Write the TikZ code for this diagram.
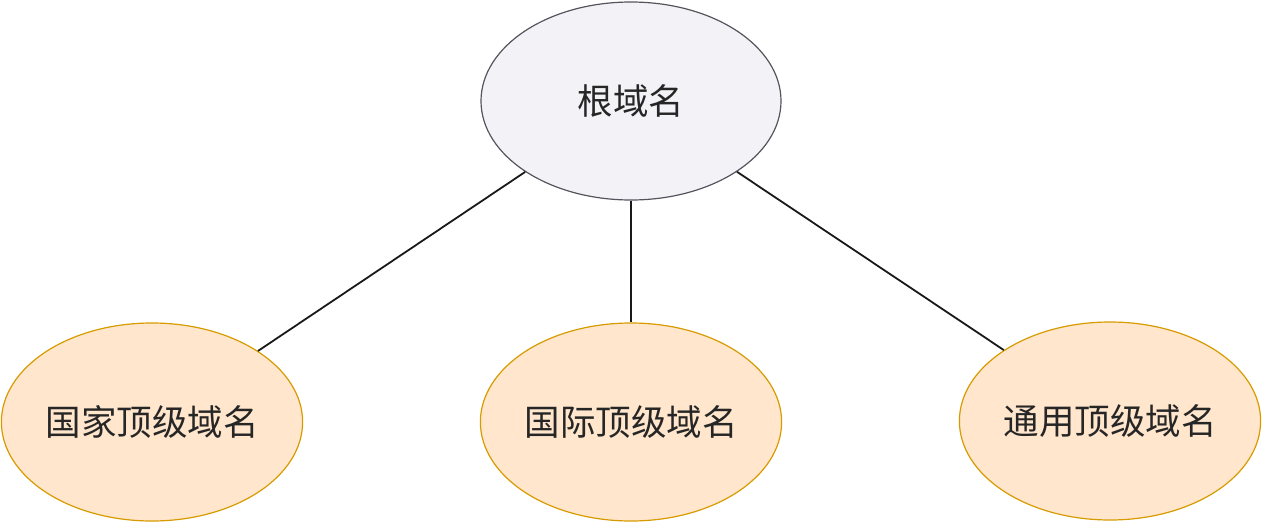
\documentclass[tikz,border=0pt]{standalone}
\usepackage{fontspec}
\setmainfont{Noto Sans CJK SC}
\usetikzlibrary{shapes.geometric}
\definecolor{rootfill}{HTML}{F3F3F7}
\definecolor{rootdraw}{HTML}{56535C}
\definecolor{tldfill}{HTML}{FFE6CC}
\definecolor{tlddraw}{HTML}{D79B00}
\tikzset{
  dom/.style={ellipse, minimum width=300pt, minimum height=198pt, inner sep=0pt, line width=1.2pt, font=\fontsize{35.5}{42}\selectfont, text=black!85},
  rootdom/.style={dom, draw=rootdraw, fill=rootfill},
  tld/.style={dom, draw=tlddraw, fill=tldfill},
  link/.style={line width=1.8pt, draw=black!90}
}
\begin{document}
\begin{tikzpicture}[x=1pt,y=-1pt]
\useasboundingbox (0,0) rectangle (1262,522);
\node[rootdom] (root) at (631,101) {根域名};
\node[tld] (cc) at (152,422) {国家顶级域名};
\node[tld] (intl) at (631,422) {国际顶级域名};
\node[tld] (gen) at (1110,421) {通用顶级域名};
\draw[link] (root) -- (cc);
\draw[link] (root) -- (intl);
\draw[link] (root) -- (gen);
\end{tikzpicture}
\end{document}
